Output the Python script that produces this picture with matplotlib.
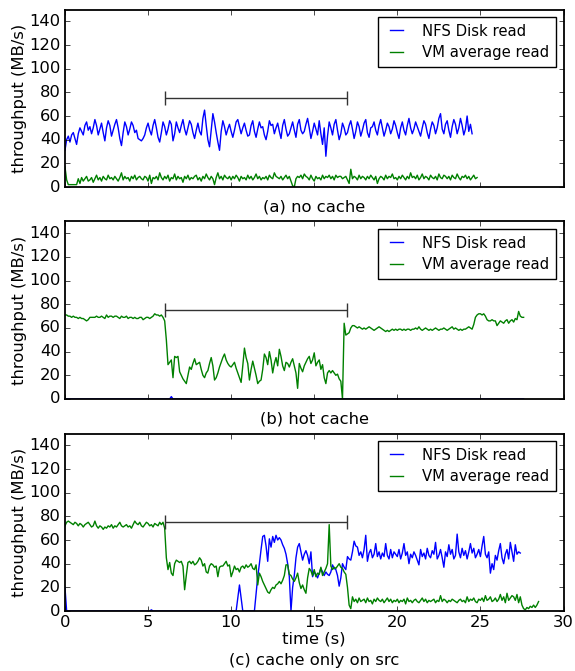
import numpy as np
import matplotlib
matplotlib.use("Agg")
import matplotlib.pyplot as plt

# sample spacing of the traces (s)
dt = 0.1

# migration window shown by the bar
mig_start = 6.0
mig_end = 17.0
mig_level = 75

# (a) no cache -- NFS disk read, from t=0
a_nfs = [31, 40, 43, 38, 44, 46, 41, 36, 45, 50,
         47, 44, 52, 55, 48, 51, 45, 50, 57, 52,
         44, 49, 54, 46, 39, 50, 56, 52, 43, 48,
         53, 57, 50, 41, 35, 46, 55, 51, 44, 49,
         55, 52, 46, 48, 41, 40, 39, 41, 44, 50,
         54, 48, 44, 52, 57, 50, 42, 38, 46, 55,
         51, 44, 49, 56, 53, 39, 45, 55, 50, 46,
         52, 57, 49, 44, 50, 56, 53, 46, 41, 48,
         54, 47, 44, 58, 65, 52, 40, 34, 48, 62,
         55, 46, 38, 31, 47, 56, 51, 44, 49, 53,
         47, 42, 48, 55, 57, 51, 45, 50, 54, 48,
         43, 44, 52, 56, 47, 42, 49, 55, 50, 51,
         44, 40, 47, 56, 52, 53, 45, 50, 54, 47,
         41, 52, 57, 49, 43, 45, 50, 55, 48, 42,
         53, 57, 48, 45, 47, 53, 58, 50, 41, 47,
         54, 49, 44, 56, 45, 36, 50, 26, 43, 55,
         50, 44, 53, 57, 48, 40, 45, 54, 50, 44,
         46, 52, 56, 49, 41, 47, 55, 51, 43, 48,
         54, 57, 46, 42, 50, 51, 55, 48, 44, 52,
         57, 50, 43, 48, 54, 51, 45, 49, 56, 52,
         46, 41, 50, 55, 48, 44, 52, 58, 50, 45,
         49, 55, 51, 47, 43, 50, 56, 53, 46, 41,
         49, 55, 52, 45, 50, 58, 62, 49, 45, 53,
         56, 48, 42, 51, 57, 53, 45, 50, 58, 52,
         44, 49, 60, 47, 53, 45]

# (a) no cache -- VM average read, from t=0
a_vm = [17, 6, 2, 2, 2, 2, 2, 2, 7, 3,
        8, 5, 7, 9, 5, 6, 8, 4, 7, 10,
        6, 8, 5, 9, 7, 6, 10, 7, 8, 6,
        9, 7, 5, 8, 12, 6, 9, 7, 8, 5,
        9, 7, 10, 6, 8, 9, 7, 6, 9, 8,
        5, 10, 3, 8, 7, 9, 6, 12, 8, 6,
        9, 7, 10, 5, 8, 7, 11, 6, 9, 7,
        8, 4, 9, 7, 10, 6, 8, 7, 9, 10,
        6, 8, 5, 9, 7, 11, 8, 6, 9, 7,
        2, 8, 12, 7, 9, 6, 10, 8, 7, 9,
        6, 9, 7, 10, 8, 5, 9, 7, 8, 6,
        10, 7, 9, 6, 8, 11, 7, 9, 6, 8,
        7, 9, 6, 10, 8, 7, 12, 9, 8, 7,
        9, 6, 8, 10, 7, 9, 5, 1, 0, 7,
        9, 8, 10, 7, 11, 9, 8, 6, 10, 7,
        5, 9, 7, 8, 6, 10, 7, 9, 8, 10,
        7, 9, 6, 10, 8, 9, 9, 7, 8, 9,
        6, 3, 15, 7, 9, 8, 6, 10, 7, 9,
        8, 6, 9, 7, 10, 8, 6, 9, 3, 7,
        9, 8, 6, 10, 7, 9, 8, 11, 7, 8,
        6, 9, 7, 10, 8, 6, 9, 7, 12, 8,
        9, 7, 10, 6, 8, 11, 7, 9, 8, 6,
        10, 8, 7, 9, 6, 11, 8, 7, 10, 9,
        7, 9, 6, 10, 8, 7, 11, 8, 6, 9,
        8, 10, 7, 9, 6, 8, 10, 7, 8]

# (b) hot cache -- NFS disk read is idle except one tiny blip
b_nfs_t = [0.0, 6.3, 6.4, 6.5, 27.6]
b_nfs = [0, 0, 2, 0, 0]

# (b) hot cache -- VM average read, from t=0
b_vm = [71, 71, 70, 70, 69, 70, 69, 69, 68, 69,
        68, 68, 67, 66, 67, 69, 69, 69, 69, 70,
        69, 69, 70, 69, 68, 71, 69, 70, 70, 69,
        70, 70, 69, 68, 70, 69, 69, 70, 68, 69,
        69, 68, 69, 68, 68, 69, 69, 67, 68, 69,
        69, 68, 69, 70, 72, 71, 71, 70, 71, 69,
        66, 50, 29, 31, 33, 18, 36, 35, 36, 23,
        20, 17, 15, 13, 20, 27, 25, 30, 34, 29,
        30, 31, 25, 20, 18, 22, 24, 30, 35, 28,
        16, 18, 22, 27, 31, 35, 38, 33, 30, 28,
        27, 29, 31, 26, 22, 18, 14, 28, 43, 35,
        30, 16, 25, 32, 26, 20, 13, 15, 16, 25,
        38, 35, 29, 40, 33, 22, 30, 35, 28, 42,
        36, 28, 24, 31, 30, 27, 31, 34, 28, 22,
        9, 30, 26, 23, 28, 31, 34, 36, 30, 33,
        39, 28, 31, 33, 25, 29, 18, 13, 22, 24,
        22, 24, 22, 20, 21, 17, 15, 0, 64, 54,
        55, 56, 60, 62, 62, 61, 60, 61, 60, 59,
        60, 59, 60, 61, 60, 59, 58, 59, 60, 61,
        60, 59, 58, 57, 58, 57, 58, 59, 58, 59,
        58, 59, 59, 58, 59, 58, 59, 59, 58, 59,
        59, 60, 59, 61, 59, 58, 59, 60, 59, 58,
        59, 58, 59, 60, 59, 58, 59, 59, 60, 59,
        58, 59, 60, 61, 59, 60, 59, 58, 59, 58,
        59, 59, 60, 61, 60, 59, 63, 69, 71, 72,
        72, 71, 72, 70, 67, 66, 66, 67, 66, 66,
        62, 64, 66, 65, 64, 66, 67, 64, 66, 67,
        65, 68, 67, 74, 70, 69, 69]

# (c) cache only on src -- NFS disk read: idle stretch, then dense from 11 s
c_nfs_idle_t = [0.0, 0.1, 5.1, 5.2, 5.3, 10.3, 10.5, 10.7, 10.9]
c_nfs_idle = [20, 0, 0, 1, 0, 0, 22, 0, 0]
c_nfs_start = 11.0
c_nfs = [0, 0, 0, 0, 0, 15, 29, 40, 52, 63,
         64, 55, 42, 61, 54, 63, 58, 64, 60, 62,
         60, 56, 53, 48, 40, 29, 0, 20, 30, 45,
         54, 57, 50, 43, 48, 51, 47, 40, 50, 29,
         33, 31, 28, 32, 36, 33, 30, 33, 31, 30,
         33, 39, 36, 35, 30, 21, 28, 40, 37, 35,
         46, 44, 43, 50, 59, 55, 54, 47, 50, 45,
         52, 64, 42, 49, 52, 45, 48, 57, 46, 50,
         44, 49, 46, 57, 47, 44, 52, 45, 50, 48,
         46, 52, 44, 49, 57, 47, 50, 40, 48, 45,
         50, 47, 43, 39, 52, 46, 49, 44, 53, 47,
         45, 51, 48, 58, 44, 47, 52, 45, 37, 50,
         46, 56, 48, 52, 44, 47, 65, 50, 45, 53,
         47, 51, 44, 50, 57, 49, 53, 45, 48, 52,
         46, 55, 63, 48, 45, 50, 32, 40, 35, 47,
         43, 51, 57, 45, 40, 48, 52, 44, 58, 50,
         42, 56, 48, 50, 49]

# (c) cache only on src -- VM average read, from t=0
c_vm = [72, 75, 76, 75, 74, 73, 75, 74, 72, 74,
        73, 71, 73, 74, 75, 73, 71, 72, 76, 72,
        70, 72, 71, 69, 71, 70, 72, 71, 73, 70,
        72, 71, 73, 75, 72, 71, 72, 73, 71, 72,
        70, 73, 76, 74, 73, 75, 72, 71, 73, 75,
        74, 72, 73, 71, 74, 73, 72, 75, 73, 75,
        70, 45, 35, 41, 32, 30, 40, 43, 42, 41,
        42, 38, 18, 30, 41, 42, 40, 42, 39, 40,
        42, 45, 43, 38, 40, 33, 32, 38, 40, 39,
        37, 38, 29, 37, 38, 38, 40, 42, 38, 39,
        29, 33, 38, 35, 36, 33, 37, 38, 36, 39,
        37, 38, 40, 36, 35, 39, 22, 32, 29, 25,
        22, 19, 16, 15, 18, 20, 19, 22, 23, 25,
        23, 26, 30, 39, 39, 31, 30, 27, 25, 28,
        32, 24, 19, 22, 18, 15, 28, 36, 34, 30,
        35, 29, 32, 31, 37, 30, 33, 36, 40, 73,
        38, 35, 37, 36, 38, 40, 37, 36, 33, 31,
        20, 5, 2, 12, 8, 10, 7, 11, 8, 9,
        10, 7, 11, 8, 9, 6, 10, 8, 11, 9,
        8, 10, 7, 9, 11, 8, 10, 7, 9, 8,
        10, 7, 9, 8, 10, 6, 11, 8, 9, 7,
        9, 10, 8, 7, 9, 11, 8, 10, 7, 9,
        8, 9, 10, 7, 9, 8, 13, 8, 10, 9,
        7, 9, 8, 10, 9, 8, 7, 9, 10, 8,
        9, 7, 12, 8, 10, 9, 11, 8, 7, 10,
        9, 11, 8, 13, 9, 10, 12, 8, 9, 11,
        8, 10, 14, 9, 12, 7, 15, 9, 11, 13,
        12, 9, 14, 7, 12, 5, 2, 1, 3, 2,
        4, 3, 5, 3, 5, 8]

captions = ["(a) no cache", "(b) hot cache", "(c) cache only on src"]
x_ticks = [0, 5, 10, 15, 20, 25, 30]
y_ticks = [0, 20, 40, 60, 80, 100, 120, 140]


def times(vals, start=0.0):
    return start + np.arange(len(vals)) * dt


plt.style.use("classic")
plt.rcParams["font.size"] = 11.8
plt.rcParams["figure.facecolor"] = "white"
plt.rcParams["savefig.facecolor"] = "white"

fig = plt.figure(figsize=(5.75, 6.71), dpi=100)

panels = [
    (times(a_nfs), a_nfs, times(a_vm), a_vm),
    (np.array(b_nfs_t), b_nfs, times(b_vm), b_vm),
    (np.concatenate([c_nfs_idle_t, times(c_nfs, c_nfs_start)]),
     c_nfs_idle + c_nfs, times(c_vm), c_vm),
]
bottoms = [0.7213, 0.4054, 0.0894]
caption_y = [0.691, 0.375, 0.016]

for i, (tn, vn, tv, vv) in enumerate(panels):
    ax = fig.add_axes([0.113, bottoms[i], 0.867, 0.2645])
    ax.plot(tn, vn, color="b", lw=1.0, label="NFS Disk read", zorder=1)
    ax.plot(tv, vv, color="g", lw=1.0, label="VM average read", zorder=1.1)
    ax.errorbar([(mig_start + mig_end) / 2], [mig_level],
                xerr=[(mig_end - mig_start) / 2], fmt="none",
                ecolor="0.2", elinewidth=1.0, capsize=5, capthick=1.0)
    # spines on top so the idle (zero) traces hide under the x axis
    for sp in ax.spines.values():
        sp.set_zorder(5)
        sp.set_linewidth(1.3)
    ax.set_xlim(0, 30)
    ax.set_ylim(0, 150)
    ax.set_xticks(x_ticks)
    ax.set_yticks(y_ticks)
    ax.tick_params(length=3.5, pad=3, labelsize=11.8)
    ax.tick_params(which="minor", length=0)
    ax.set_ylabel("throughput (MB/s)", fontsize=11.8, labelpad=2)
    if i < 2:
        ax.set_xticklabels([])
    else:
        ax.set_xlabel("time (s)", fontsize=11.8, labelpad=1)
    leg = ax.legend(loc="upper right", fontsize=10.7, handlelength=1.5,
                    handletextpad=1.0, labelspacing=0.45, borderpad=0.45,
                    borderaxespad=0.5)
    leg.get_frame().set_linewidth(1.0)
    fig.text(0.547, caption_y[i], captions[i], ha="center", va="center",
             fontsize=11.8)

fig.savefig("out.png", dpi=100)
